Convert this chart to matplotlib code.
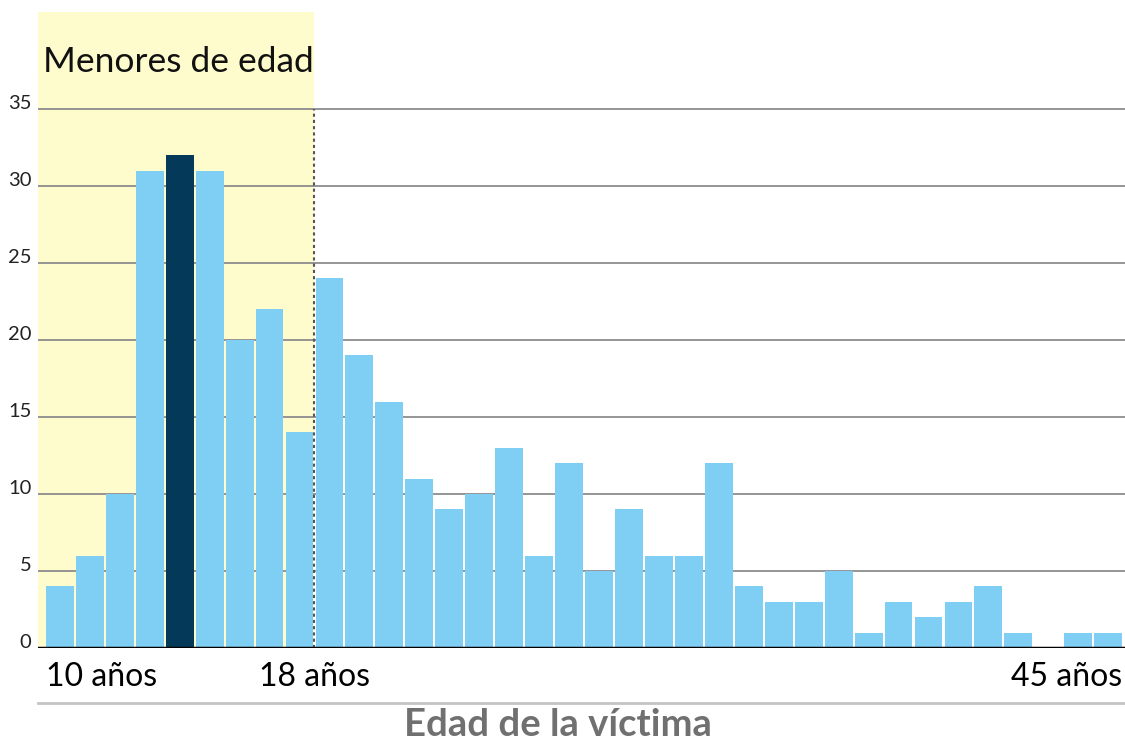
import numpy as np
import matplotlib
matplotlib.use("Agg")
import matplotlib.pyplot as plt

plt.rcParams['font.family'] = ['Lato', 'DejaVu Sans']

# victims by age, 10 to 45
ages = list(range(10, 46))
counts = [4, 6, 10, 31, 32, 31, 20, 22, 14, 24, 19, 16, 11, 9, 10, 13, 6, 12,
          5, 9, 6, 6, 12, 4, 3, 3, 5, 1, 3, 2, 3, 4, 1, 0, 1, 1]
highlight_age = 14
yticks = [0, 5, 10, 15, 20, 25, 30, 35]
age_labels = {10: '10 años', 18: '18 años', 45: '45 años'}

LIGHT = '#7fcef3'
DARK = '#04395a'
YELLOW = '#fefccc'
GRID = '#8c8c8c'

fig = plt.figure(figsize=(11.25, 7.42), dpi=100)
ax = fig.add_axes([38 / 1125, 94 / 742, 1 - 38 / 1125, 636 / 742])

width = 0.93
colors = [DARK if a == highlight_age else LIGHT for a in ages]
ax.bar(ages, counts, width=width, color=colors, zorder=3)

ax.set_xlim(9.27, 45.56)
ax.set_ylim(0, 41.3)

# minors band
ax.axvspan(9.27, 18.5, color=YELLOW, zorder=0, lw=0)
ax.text(9.45, 37.4, 'Menores de edad', fontsize=25.5, color='#111111',
        ha='left', va='baseline', zorder=4)

# grid and y labels
for v in yticks[1:]:
    ax.axhline(v, color=GRID, lw=1.3, zorder=1)
for v in yticks:
    ax.text(-0.006, v, str(v), transform=ax.get_yaxis_transform(),
            ha='right', va='baseline', fontsize=14.5, color='#222222')

ax.plot([18.5, 18.5], [0, 35], color='#555555', lw=1.5, ls=(0, (1.5, 1.5)), zorder=4)
ax.axhline(0, color='black', lw=2.5, zorder=5)

# age labels under axis
ax.text(10 - width / 2, -2.5, age_labels[10], fontsize=23, ha='left', va='baseline')
ax.text(18.5, -2.5, age_labels[18], fontsize=23, ha='center', va='baseline')
ax.text(45 + width / 2, -2.5, age_labels[45], fontsize=23, ha='right', va='baseline')

ax.plot([0, 1], [-3.6, -3.6], transform=ax.get_yaxis_transform(), clip_on=False,
        color='#c4c4c4', lw=2)
ax.text(0.478, -0.139, 'Edad de la víctima', transform=ax.transAxes, fontsize=27.5,
        fontweight='bold', color='#707070', ha='center', va='baseline')

for s in ax.spines.values():
    s.set_visible(False)
ax.set_xticks([])
ax.set_yticks([])

fig.savefig('out.png', dpi=100)
